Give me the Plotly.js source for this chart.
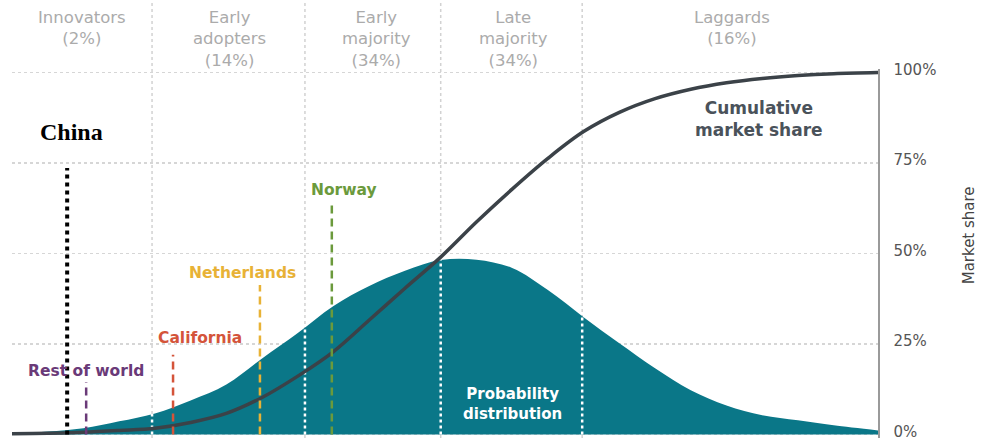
<!DOCTYPE html>
<html><head><meta charset="utf-8">
<script src="https://cdn.plot.ly/plotly-3.0.1.min.js"></script>
<style>html,body{margin:0;padding:0;background:#fff}</style>
</head><body><div id="chart" style="width:985px;height:441px"></div>
<script>
// ---- data (x = adoption timing in standard deviations from the mean) ----
const adoptionSd = [-3.0, -2.75, -2.5, -2.25, -2.0, -1.75, -1.5, -1.25, -1.0, -0.75, -0.5, -0.25, 0, 0.25, 0.5, 0.75, 1.0, 1.25, 1.5, 1.75, 2.0, 2.25, 2.5, 2.75, 3.06];
const distributionPct = [0.3, 0.8, 1.7, 3.6, 5.8, 9.4, 13.8, 21.0, 28.0, 35.5, 41.0, 45.2, 48.2, 48.3, 46.0, 39.9, 32.4, 25.2, 18.3, 12.2, 8.0, 5.3, 3.9, 2.5, 1.1];
const cumulativePct = [0.2, 0.3, 0.6, 1.1, 1.7, 3.3, 5.8, 10.2, 16.1, 22.9, 31.6, 40.4, 49.0, 58.7, 67.8, 76.3, 83.7, 89.0, 92.8, 95.4, 97.2, 98.4, 99.2, 99.7, 100];

const segmentNames = ['Innovators', 'Early<br>adopters', 'Early<br>majority', 'Late<br>majority', 'Laggards'];
const segmentShares = ['2%', '14%', '34%', '34%', '16%'];
const segmentBounds = [-2.02, -0.95, 0, 0.99];

const countries = ['China', 'Rest of world', 'California', 'Netherlands', 'Norway'];
const countrySd = [-2.614, -2.481, -1.873, -1.265, -0.762];
const countryLevel = [73.6, 14.5, 22.0, 41.3, 64.2];

const yTicks = [0, 25, 50, 75, 100];
const yTickText = ['0%', '25%', '50%', '75%', '100%'];

// ---- styles & label placement ----
const FONT = 'DejaVu Sans, sans-serif';
const teal = '#0a7788';
const lineDark = '#3b4248';
const countryStyle = {
  'China': {color: '#000000', width: 4, dash: 'dot', font: 'Liberation Serif, serif', size: 24, lx: -2.586, ly: 83.6},
  'Rest of world': {color: '#6a3a78', width: 2.5, dash: '8px,5px', font: FONT, size: 15.5, lx: -2.48, ly: 17.5},
  'California': {color: '#d4543a', width: 2.5, dash: '8px,5px', font: FONT, size: 15.5, lx: -1.684, ly: 26.6},
  'Netherlands': {color: '#e8b236', width: 2.5, dash: '8px,5px', font: FONT, size: 15.5, lx: -1.384, ly: 44.6},
  'Norway': {color: '#6b9a3c', width: 2.5, dash: '8px,5px', font: FONT, size: 15.5, lx: -0.678, ly: 67.5}
};
const segmentCenters = [-2.51, -1.48, -0.45, 0.51, 2.04];

function interp(xs, ys, x) {
  for (let i = 0; i < xs.length - 1; i++) {
    if (x >= xs[i] && x <= xs[i + 1]) {
      const t = (x - xs[i]) / (xs[i + 1] - xs[i]);
      return ys[i] + t * (ys[i + 1] - ys[i]);
    }
  }
  return 0;
}

const traces = [];
traces.push({
  x: adoptionSd, y: distributionPct, type: 'scatter', mode: 'lines',
  line: {width: 0, shape: 'spline', color: teal}, fill: 'tozeroy', fillcolor: teal
});
segmentBounds.forEach(b => {
  traces.push({
    x: [b, b], y: [0, interp(adoptionSd, distributionPct, b)], type: 'scatter', mode: 'lines',
    line: {color: '#ffffff', width: 2.5, dash: 'dot'}
  });
});
traces.push({
  x: adoptionSd, y: cumulativePct, type: 'scatter', mode: 'lines',
  line: {color: lineDark, width: 3.5, shape: 'spline'}
});
countries.forEach((c, i) => {
  const s = countryStyle[c];
  traces.push({
    x: [countrySd[i], countrySd[i]], y: [0, countryLevel[i]], type: 'scatter', mode: 'lines',
    line: {color: s.color, width: s.width, dash: s.dash}
  });
});

const shapes = segmentBounds.map(b => ({
  type: 'line', xref: 'x', yref: 'paper', x0: b, x1: b, y0: 0, y1: 1.19, layer: 'below',
  line: {color: '#d2d2d2', width: 1.5, dash: 'dot'}
}));

const annotations = [];
segmentNames.forEach((n, i) => {
  annotations.push({
    xref: 'x', yref: 'paper', x: segmentCenters[i], y: 1.17, yanchor: 'top', xanchor: 'center',
    text: n + '<br>(' + segmentShares[i] + ')', showarrow: false, align: 'center',
    font: {family: FONT, size: 16.5, color: '#ababab'}
  });
});
countries.forEach(c => {
  const s = countryStyle[c];
  annotations.push({
    xref: 'x', yref: 'y', x: s.lx, y: s.ly, text: '<b>' + c + '</b>', showarrow: false,
    font: {family: s.font, size: s.size, color: s.color}
  });
});
annotations.push({
  xref: 'x', yref: 'y', x: 2.23, y: 87.3, text: '<b>Cumulative<br>market share</b>', showarrow: false,
  align: 'center', font: {family: FONT, size: 17, color: '#4a525a'}
});
annotations.push({
  xref: 'x', yref: 'y', x: 0.5, y: 8.3, text: '<b>Probability<br>distribution</b>', showarrow: false,
  align: 'center', font: {family: FONT, size: 15, color: '#ffffff'}
});
annotations.push({
  xref: 'paper', yref: 'paper', x: 1.118, y: 0.688, text: 'Market share', textangle: -90, showarrow: false,
  font: {family: FONT, size: 15, color: '#444'}
});

const layout = {
  width: 985, height: 441,
  margin: {l: 12, r: 107, t: 69, b: 3, pad: 0},
  paper_bgcolor: '#ffffff', plot_bgcolor: '#ffffff',
  showlegend: false, hovermode: false,
  xaxis: {range: [-3.0, 3.06], showgrid: false, zeroline: false, showticklabels: false, showline: false, ticks: ''},
  yaxis: {
    range: [-1, 101], side: 'right', tickvals: yTicks, ticktext: yTickText,
    showgrid: true, gridcolor: '#d6d6d6', griddash: 'dot', gridwidth: 1.2,
    zeroline: false, showline: true, linecolor: '#9a9a9a', linewidth: 1.5, ticks: '',
    ticklabelstandoff: 11, ticklabeloverflow: 'allow', ticklabelshift: -3,
    tickfont: {family: FONT, size: 15, color: '#555'}
  },
  shapes: shapes,
  annotations: annotations
};

Plotly.newPlot('chart', traces, layout, {staticPlot: true, displayModeBar: false});
</script>
</body></html>
